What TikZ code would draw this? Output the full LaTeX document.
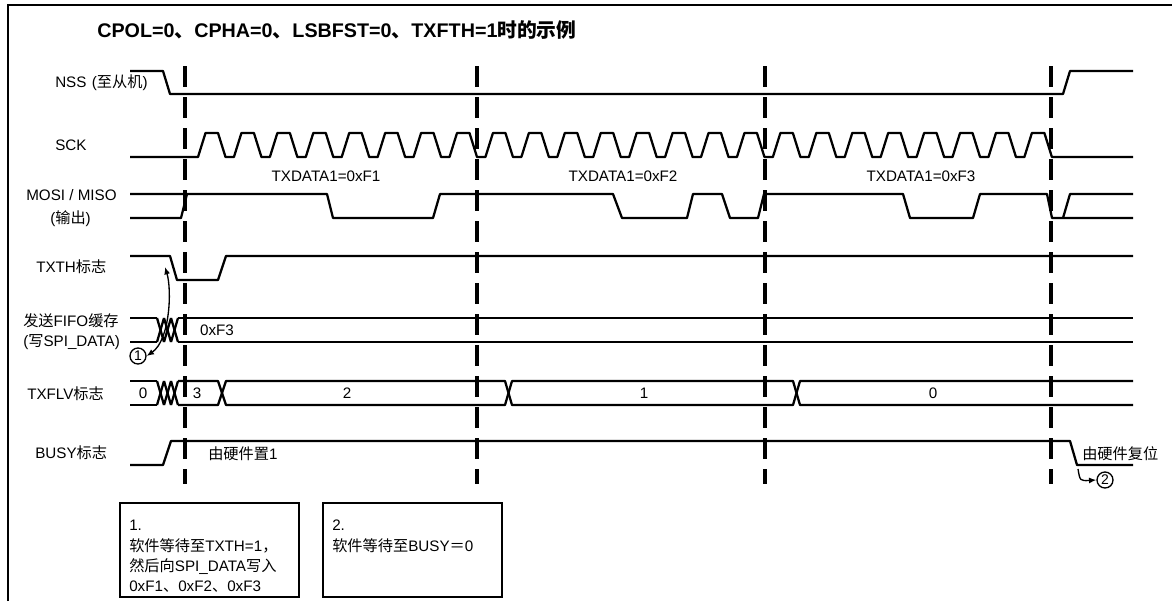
\documentclass[tikz,border=0pt]{standalone}
\usepackage{fontspec}
\setmainfont{Liberation Sans}
\newfontfamily\cjk{Noto Sans CJK SC}
\usetikzlibrary{arrows.meta}
\begin{document}
\begin{tikzpicture}[x=0.75pt,y=-0.75pt,
  sig/.style={line width=1.7pt, line join=round},
  vdash/.style={line width=2.4pt, dash pattern=on 15.75pt off 7.5pt},
  lbl/.style={anchor=base west, inner sep=0pt, font=\fontsize{11.4}{13.5}\selectfont},
  val/.style={anchor=base, inner sep=0pt, font=\fontsize{11.4}{13.5}\selectfont},
  numc/.style={circle, draw, line width=1pt, inner sep=0pt, minimum size=12pt, font=\fontsize{10.5}{10.5}\selectfont},
  arr/.style={line width=1pt},
  boxstyle/.style={draw, line width=1.6pt}]
\useasboundingbox (0,0) rectangle (1174,601);
% frame
\draw[line width=1pt] (8,601) -- (8,5) -- (1172,5);
% title
\node[anchor=base west, inner sep=0pt, font=\fontsize{14.8}{17}\selectfont\bfseries] (title) at (97,37)
  {CPOL=0{\cjk 、}CPHA=0{\cjk 、}LSBFST=0{\cjk 、}TXFTH=1{\cjk 时的示例}};
% labels
\node[lbl] (lnss) at (55,87) {NSS\hspace{4pt}({\cjk 至从机})};
\node[lbl] (lsck) at (55,150) {SCK};
\node[lbl] (lmosi) at (26,200) {MOSI / MISO};
\node[lbl] (lmosi2) at (50,223) {({\cjk 输出})};
\node[lbl] (ltxth) at (36,272) {TXTH{\cjk 标志}};
\node[lbl] (lfifo) at (23,326) {{\cjk 发送}FIFO{\cjk 缓存}};
\node[lbl] (lfifo2) at (23,346) {({\cjk 写}SPI\_DATA)};
\node[lbl] (ltxflv) at (27,399) {TXFLV{\cjk 标志}};
\node[lbl] (lbusy) at (35,458) {BUSY{\cjk 标志}};
% dashed markers
\foreach \x/\n in {185/a,477/b,765/c,1051/d} \draw[vdash] (\x,66) -- (\x,484);
% NSS
\draw[sig] (130,71) -- (163,71) -- (170,94) -- (1063,94) -- (1070,71) -- (1133,71);
% SCK
\draw[sig] (130,157) \foreach \k in {0,...,23}{ -- ({198+35.93*\k},157) -- ({205.5+35.93*\k},133) -- ({218+35.93*\k},133) -- ({225.5+35.93*\k},157) } -- (1133,157);
% MOSI
\draw[sig] (130,218) -- (181,218) -- (187,194);
\draw[sig] (130,194) -- (327,194) -- (333,218) -- (433,218) -- (440,194) -- (613,194) -- (622,218) -- (687,218) -- (693,194) -- (722,194) -- (730,218) -- (758,218) -- (764,194) -- (903,194) -- (910,218) -- (973,218) -- (980,194) -- (1047,194) -- (1052,218) -- (1133,218);
\draw[sig] (1063,218) -- (1070,194) -- (1133,194);
\node[val] (d1) at (326,181) {TXDATA1=0xF1};
\node[val] (d2) at (623,181) {TXDATA1=0xF2};
\node[val] (d3) at (921,181) {TXDATA1=0xF3};
% TXTH
\draw[sig] (130,256) -- (170,256) -- (177,280) -- (218,280) -- (226,256) -- (1133,256);
% FIFO
\draw[sig] (130,318) -- (157,318);
\draw[sig] (130,342) -- (157,342);
\foreach \a in {157,164,171} {
  \draw[sig] (\a,318) -- (\a+7,342);
  \draw[sig] (\a,342) -- (\a+7,318);
}
\draw[sig] (178,318) -- (1133,318);
\draw[sig] (178,342) -- (1133,342);
\node[val] (f3) at (217,335) {0xF3};
% TXFLV
\draw[sig] (130,381) -- (157,381);
\draw[sig] (130,405) -- (157,405);
\foreach \a in {157,164,171} {
  \draw[sig] (\a,381) -- (\a+7,405);
  \draw[sig] (\a,405) -- (\a+7,381);
}
\draw[sig] (178,381) -- (218,381) -- (226,405) -- (505,405) -- (512,381) -- (793,381) -- (800,405) -- (1133,405);
\draw[sig] (178,405) -- (218,405) -- (226,381) -- (505,381) -- (512,405) -- (793,405) -- (800,381) -- (1133,381);
\node[val] (v0) at (143,398) {0};
\node[val] (v3) at (197,398) {3};
\node[val] (v2) at (347,398) {2};
\node[val] (v1) at (644,398) {1};
\node[val] (v0b) at (933,398) {0};
% BUSY
\draw[sig] (130,465) -- (163,465) -- (171,441) -- (1070,441) -- (1077,465) -- (1133,465);
\node[lbl] (set1) at (208,459) {{\cjk 由硬件置}1};
\node[lbl] (reset) at (1082,459) {{\cjk 由硬件复位}};
% circled markers and arrows
\node[numc] (c1) at (138,356) {1};
\node[numc] (c2) at (1105,480) {2};
\coordinate (txthedge) at (165,267);
\coordinate (busyfall) at (1078,469);
\draw[arr, {Latex[length=5.5pt,width=4.5pt]}-{Latex[length=5.5pt,width=4.5pt]}] (c1.east) .. controls (170,340) and (172,290) .. (txthedge);
\draw[arr, -{Latex[length=5.5pt,width=4.5pt]}] (busyfall) .. controls (1080,481) .. (c2.west);
% boxes
\draw[boxstyle] (120,503) rectangle (299,597);
\draw[boxstyle] (323,503) rectangle (502,597);
\node[lbl] (b1a) at (129,530) {1.};
\node[lbl] (b1b) at (129,551) {{\cjk 软件等待至}TXTH=1{\cjk ，}};
\node[lbl] (b1c) at (129,571) {{\cjk 然后向}SPI\_DATA{\cjk 写入}};
\node[lbl] (b1d) at (129,591) {0xF1{\cjk 、}0xF2{\cjk 、}0xF3};
\node[lbl] (b2a) at (332,530) {2.};
\node[lbl] (b2b) at (332,551) {{\cjk 软件等待至}BUSY{\cjk ＝}0};
\end{tikzpicture}
\end{document}
